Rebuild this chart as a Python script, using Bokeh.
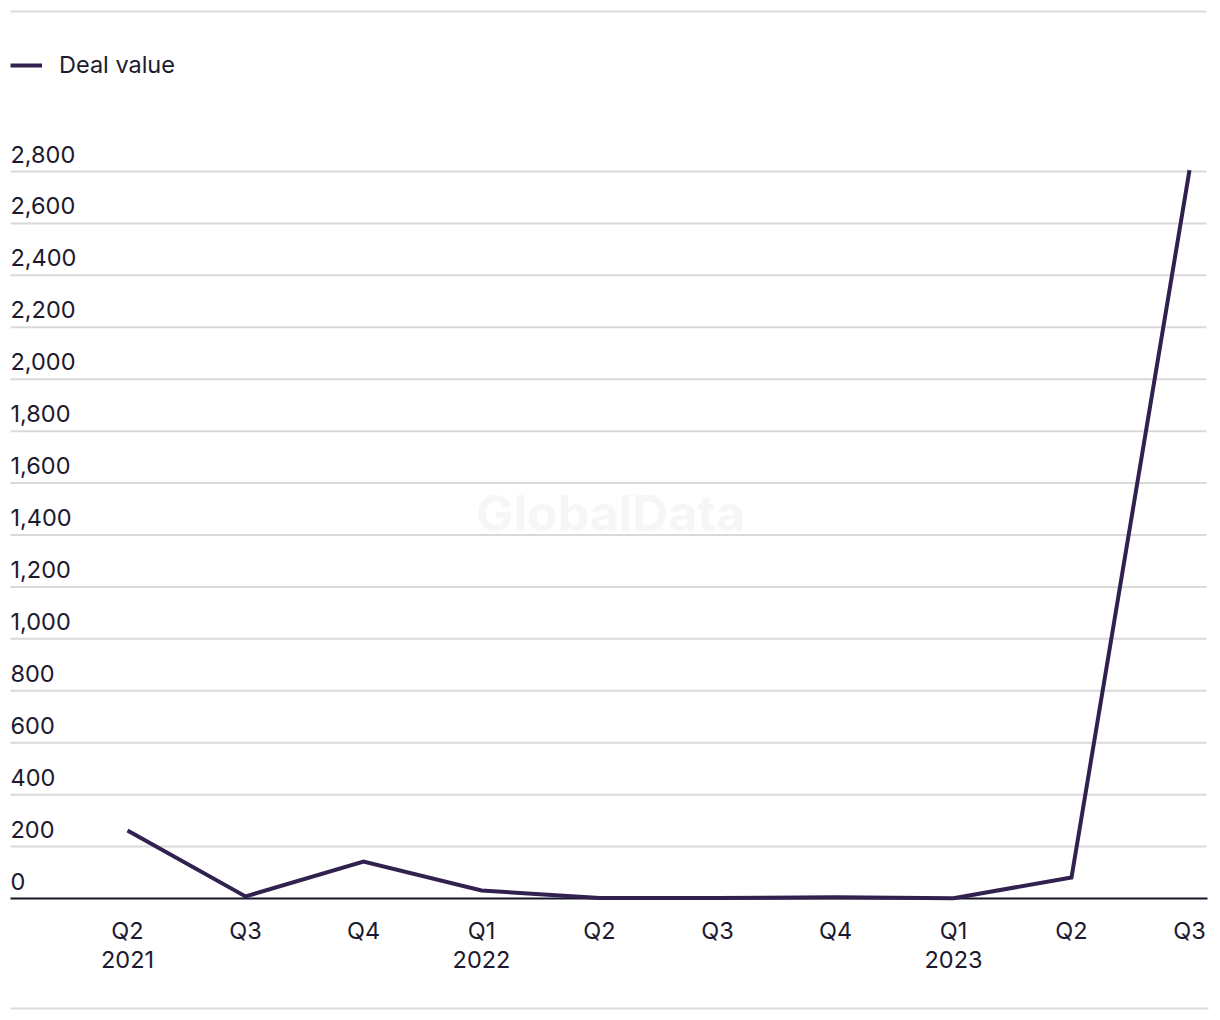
from bokeh.plotting import figure
from bokeh.models import Range1d, Legend, LegendItem, ColumnDataSource
from bokeh.core.properties import value
from bokeh.embed import file_html
from bokeh.resources import INLINE

quarters = ["Q2", "Q3", "Q4", "Q1", "Q2", "Q3", "Q4", "Q1", "Q2", "Q3"]
years = ["2021", "", "", "2022", "", "", "", "2023", "", ""]
deal_value = [262, 8, 142, 31, 2, 2, 5, 1, 81, 2805]
y_ticks = [0, 200, 400, 600, 800, 1000, 1200, 1400, 1600, 1800, 2000, 2200, 2400, 2600, 2800]

W, H = 1220, 1020
# pixel layout
x0_px, dx_px = 127, 118
zero_px, top_px, top_val = 898, 171, 2800
left_px, right_px = 10, 1206
per_px = top_val / (zero_px - top_px)

def xd(px):
    return (px - x0_px) / dx_px

def yd(px):  # px from top
    return (zero_px - px) * per_px

FONT = "Inter"
TXT = "#1c1a2e"
LINE = "#31214f"

p = figure(width=W, height=H, output_backend="svg", toolbar_location=None,
           x_range=Range1d(xd(0), xd(W)), y_range=Range1d(yd(H), yd(0)),
           min_border=0, outline_line_color=None)
p.axis.visible = False
p.grid.visible = False
p.background_fill_color = "white"
p.border_fill_color = "white"

xs = list(range(len(quarters)))

# watermark
p.text(x=[xd(610)], y=[yd(512)], text=["GlobalData"], text_font=value("Inter"),
       text_font_style="bold", text_font_size="50px", text_color="#f6f6f6",
       text_align="center", text_baseline="middle")

# gridlines
grid_src = ColumnDataSource(dict(y=[v for v in y_ticks if v != 0]))
p.segment(x0=xd(left_px), x1=xd(right_px), y0="y", y1="y", source=grid_src,
          line_color="#d9d9d9", line_width=2)

# separators
p.segment(x0=[xd(left_px), xd(left_px)], x1=[xd(1206), xd(1208)],
          y0=[yd(11), yd(1008)], y1=[yd(11), yd(1008)],
          line_color="#dcdcdc", line_width=2)

# y tick labels (left aligned, above the grid line)
ylab = ColumnDataSource(dict(y=[v + 17.5 * per_px for v in y_ticks],
                             t=[f"{v:,}" for v in y_ticks]))
p.text(x=xd(10), y="y", text="t", source=ylab, text_font=value(FONT),
       text_font_size="23.5px", text_color=TXT, text_align="left",
       text_baseline="middle")

# zero line
p.segment(x0=[xd(left_px)], x1=[xd(1207)], y0=[0], y1=[0], line_color="#16142a", line_width=2)

# x tick labels
qlab = ColumnDataSource(dict(x=xs, y=[yd(930)] * len(xs), t=quarters))
p.text(x="x", y="y", text="t", source=qlab, text_font=value(FONT),
       text_font_size="23.5px", text_color=TXT, text_align="center",
       text_baseline="middle")
ylab2 = ColumnDataSource(dict(x=xs, y=[yd(959)] * len(xs), t=years))
p.text(x="x", y="y", text="t", source=ylab2, text_font=value(FONT),
       text_font_size="23.5px", text_color=TXT, text_align="center",
       text_baseline="middle")

# data line
r = p.line(xs, deal_value, line_color=LINE, line_width=4, line_join="miter")

legend = Legend(items=[LegendItem(label="Deal value", renderers=[r])],
                location=(10, H - 67 - 12), padding=0, margin=0, spacing=0,
                glyph_width=32, glyph_height=24, label_standoff=17,
                label_text_font=FONT, label_text_font_size="23.5px",
                label_text_color=TXT, border_line_color=None,
                background_fill_alpha=0)
p.add_layout(legend)

open("out.html", "w").write(file_html(p, INLINE))
